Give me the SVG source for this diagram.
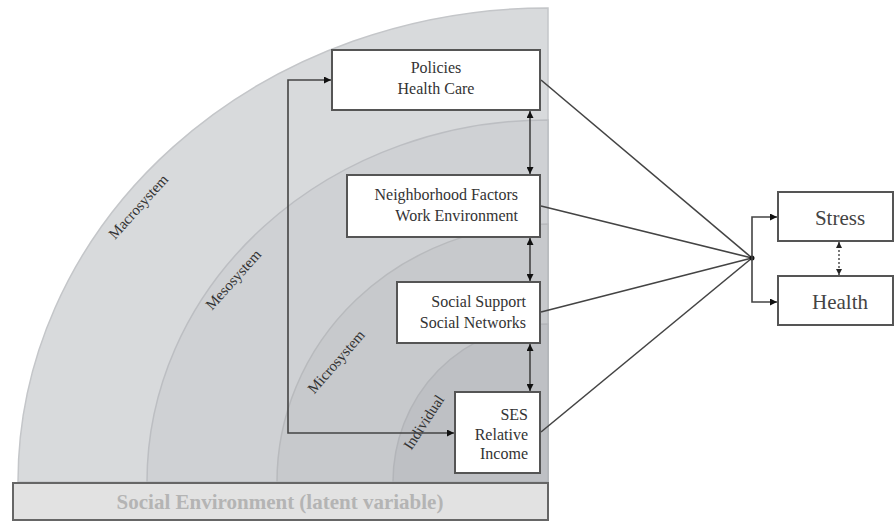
<svg xmlns="http://www.w3.org/2000/svg" width="895" height="525" viewBox="0 0 895 525">
<style>
.box{fill:#fff;stroke:#555;stroke-width:2}
.t{font-family:"Liberation Serif","Times New Roman",serif;font-size:16px;fill:#333}
.big{font-family:"Liberation Serif","Times New Roman",serif;font-size:21px;fill:#444}
.arc{font-family:"Liberation Serif","Times New Roman",serif;font-size:15px;fill:#333}
.ln{stroke:#444;stroke-width:1.6;fill:none}
</style>
<defs>
<marker id="ah" viewBox="0 0 10 10" refX="10" refY="5" markerWidth="7" markerHeight="7" markerUnits="userSpaceOnUse" orient="auto-start-reverse">
<path d="M0,0 L10,5 L0,10 Z" fill="#111"/>
</marker>
<marker id="sm" viewBox="0 0 10 10" refX="10" refY="5" markerWidth="6" markerHeight="6" markerUnits="userSpaceOnUse" orient="auto-start-reverse">
<path d="M0,0 L10,5 L0,10 Z" fill="#222"/>
</marker>
</defs>
<rect width="895" height="525" fill="#fff"/>
<g id="rings">
<path d="M548,482 L18,482 A530,474 0 0 1 548,8 Z" fill="#d8dadc" stroke="#c4c6c9" stroke-width="1.5"/>
<path d="M548,482 L147,482 A401,362 0 0 1 548,120 Z" fill="#cfd1d4" stroke="#bcbec2" stroke-width="1.5"/>
<path d="M548,482 L277,482 A271,258 0 0 1 548,224 Z" fill="#c7c9cc" stroke="#b8babd" stroke-width="1.5"/>
<path d="M548,482 L393,482 A155,158 0 0 1 548,324 Z" fill="#bec0c4" stroke="#b3b5b9" stroke-width="1.5"/>
<text class="arc" transform="translate(142,210) rotate(-48)" text-anchor="middle">Macrosystem</text>
<text class="arc" transform="translate(237,283) rotate(-48)" text-anchor="middle">Mesosystem</text>
<text class="arc" transform="translate(340,365) rotate(-49)" text-anchor="middle">Microsystem</text>
<text class="arc" font-size="14" transform="translate(428,425) rotate(-57)" text-anchor="middle">Individual</text>
</g>
<g id="social-environment">
<rect x="13" y="483" width="535" height="37" fill="#e2e2e2" stroke="#666" stroke-width="2"/>
<text x="280" y="509" text-anchor="middle" font-family="Liberation Serif, Times New Roman, serif" font-size="21" font-weight="bold" fill="#b4b4b4">Social Environment (latent variable)</text>
</g>
<g id="connectors">
<line class="ln" x1="530" y1="111" x2="530" y2="174" marker-start="url(#ah)" marker-end="url(#ah)"/>
<line class="ln" x1="530" y1="238" x2="530" y2="281" marker-start="url(#ah)" marker-end="url(#ah)"/>
<line class="ln" x1="530" y1="344" x2="530" y2="391" marker-start="url(#ah)" marker-end="url(#ah)"/>
<polyline class="ln" points="331,80 288,80 288,433 454,433" marker-start="url(#ah)" marker-end="url(#ah)"/>
<line class="ln" x1="541" y1="80" x2="752" y2="258"/>
<line class="ln" x1="541" y1="206" x2="752" y2="258"/>
<line class="ln" x1="541" y1="312" x2="752" y2="258"/>
<line class="ln" x1="541" y1="432" x2="752" y2="258"/>
<circle cx="752" cy="258" r="2.5" fill="#111"/>
<polyline class="ln" points="777,217 752,217 752,302 777,302" marker-start="url(#ah)" marker-end="url(#ah)"/>
<line x1="839" y1="242" x2="839" y2="275" stroke="#333" stroke-width="1.3" stroke-dasharray="2,2" marker-start="url(#sm)" marker-end="url(#sm)"/>
</g>
<g id="policies">
<rect class="box" x="332" y="50" width="208" height="60"/>
<text class="t" x="436" y="73" text-anchor="middle">Policies</text>
<text class="t" x="436" y="94" text-anchor="middle">Health Care</text>
</g>
<g id="neighborhood">
<rect class="box" x="347" y="175" width="193" height="62"/>
<text class="t" x="518" y="200" text-anchor="end">Neighborhood Factors</text>
<text class="t" x="518" y="221" text-anchor="end">Work Environment</text>
</g>
<g id="social-support">
<rect class="box" x="397" y="282" width="143" height="61"/>
<text class="t" x="526" y="307" text-anchor="end">Social Support</text>
<text class="t" x="526" y="328" text-anchor="end">Social Networks</text>
</g>
<g id="ses">
<rect class="box" x="455" y="392" width="85" height="81"/>
<text class="t" x="528" y="420" text-anchor="end">SES</text>
<text class="t" x="528" y="440" text-anchor="end">Relative</text>
<text class="t" x="528" y="459" text-anchor="end">Income</text>
</g>
<g id="stress">
<rect class="box" x="778" y="192" width="115" height="49"/>
<text class="big" x="840" y="225" text-anchor="middle">Stress</text>
</g>
<g id="health">
<rect class="box" x="778" y="276" width="115" height="49"/>
<text class="big" x="840" y="309" text-anchor="middle">Health</text>
</g>
</svg>
